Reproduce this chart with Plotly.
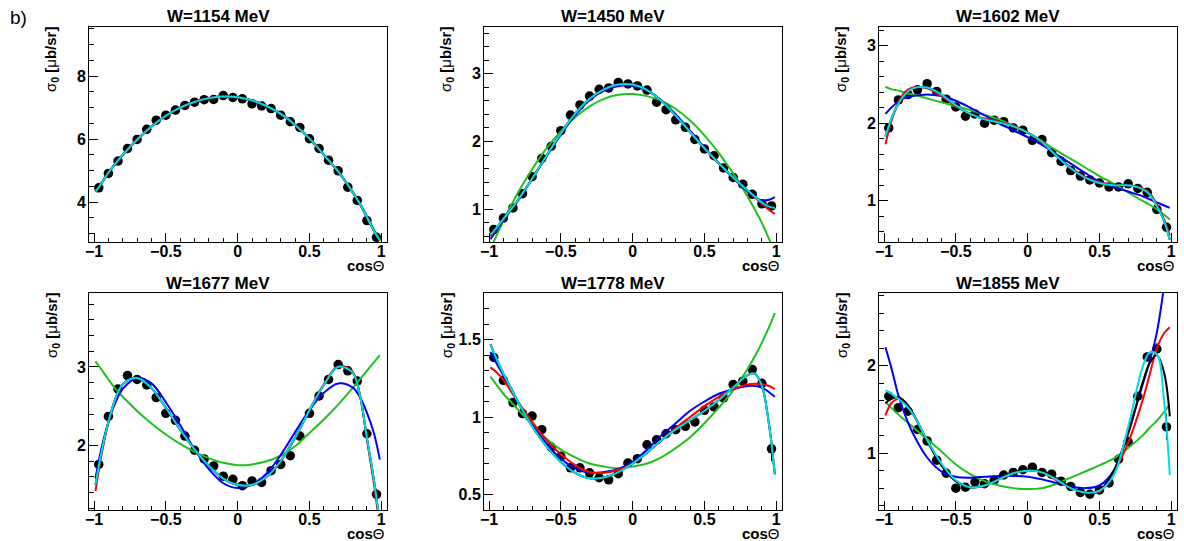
import plotly.graph_objects as go

# ---------------- data ----------------
PANEL_TITLES = ["W=1154 MeV", "W=1450 MeV", "W=1602 MeV",
                "W=1677 MeV", "W=1778 MeV", "W=1855 MeV"]

X_DATA = [-0.967, -0.9, -0.833, -0.767, -0.7, -0.633, -0.567, -0.5, -0.433, -0.367,
          -0.3, -0.233, -0.167, -0.1, -0.033, 0.033, 0.1, 0.167, 0.233, 0.3,
          0.367, 0.433, 0.5, 0.567, 0.633, 0.7, 0.767, 0.833, 0.9, 0.967]

X_FIT = [-0.99, -0.95, -0.9, -0.85, -0.8, -0.7, -0.6, -0.5, -0.4, -0.3, -0.2, -0.1,
         0.0, 0.1, 0.2, 0.3, 0.4, 0.5, 0.6, 0.7, 0.8, 0.85, 0.9, 0.95, 0.99]

# W=1154 MeV
W1154_Y = [4.45, 4.91, 5.30, 5.70, 5.99, 6.31, 6.60, 6.76, 6.92, 7.07,
           7.17, 7.25, 7.26, 7.38, 7.32, 7.28, 7.12, 7.05, 6.97, 6.76,
           6.55, 6.37, 6.01, 5.70, 5.33, 4.99, 4.47, 4.05, 3.41, 2.88]
W1154_ERR = [0.06, 0.05, 0.05, 0.05, 0.05, 0.05, 0.05, 0.05, 0.05, 0.05,
             0.05, 0.05, 0.05, 0.05, 0.05, 0.05, 0.05, 0.05, 0.05, 0.05,
             0.05, 0.05, 0.05, 0.05, 0.05, 0.05, 0.05, 0.05, 0.06, 0.08]
W1154_GREEN = [4.33, 4.58, 4.93, 5.22, 5.50, 5.98, 6.40, 6.74, 7.00, 7.18, 7.30, 7.35,
               7.33, 7.23, 7.05, 6.80, 6.45, 6.02, 5.50, 4.97, 4.33, 3.97, 3.55, 3.12, 2.80]
W1154_FIT = [4.33, 4.58, 4.93, 5.22, 5.50, 5.98, 6.40, 6.74, 7.00, 7.18, 7.30, 7.35,
             7.33, 7.23, 7.05, 6.80, 6.45, 6.02, 5.50, 4.97, 4.32, 3.95, 3.52, 3.08, 2.78]

# W=1450 MeV
W1450_Y = [0.70, 0.87, 1.02, 1.23, 1.48, 1.75, 1.93, 2.16, 2.39, 2.54,
           2.67, 2.77, 2.79, 2.87, 2.85, 2.82, 2.76, 2.58, 2.47, 2.32,
           2.21, 2.03, 1.89, 1.79, 1.61, 1.47, 1.37, 1.22, 1.08, 1.05]
W1450_ERR = [0.03, 0.02, 0.02, 0.02, 0.02, 0.02, 0.02, 0.02, 0.02, 0.02,
             0.02, 0.02, 0.02, 0.02, 0.02, 0.02, 0.02, 0.02, 0.02, 0.02,
             0.02, 0.02, 0.02, 0.02, 0.02, 0.02, 0.02, 0.02, 0.03, 0.04]
W1450_GREEN = [0.42, 0.60, 0.83, 1.04, 1.24, 1.59, 1.90, 2.15, 2.36, 2.52, 2.63, 2.69,
               2.70, 2.67, 2.60, 2.48, 2.31, 2.09, 1.83, 1.53, 1.19, 1.00, 0.80, 0.56, 0.38]
W1450_BLUE = [0.56, 0.68, 0.84, 0.98, 1.12, 1.45, 1.78, 2.10, 2.39, 2.61, 2.75, 2.82,
              2.82, 2.75, 2.61, 2.40, 2.16, 1.91, 1.68, 1.46, 1.26, 1.18, 1.13, 1.14, 1.18]
W1450_RED = [0.60, 0.71, 0.86, 0.99, 1.13, 1.45, 1.79, 2.12, 2.41, 2.63, 2.77, 2.84,
             2.84, 2.76, 2.60, 2.38, 2.14, 1.90, 1.68, 1.47, 1.28, 1.18, 1.08, 0.99, 0.93]
W1450_CYAN = [0.62, 0.72, 0.86, 0.99, 1.13, 1.45, 1.79, 2.12, 2.41, 2.63, 2.77, 2.84,
              2.84, 2.76, 2.60, 2.38, 2.14, 1.90, 1.68, 1.47, 1.28, 1.19, 1.10, 1.04, 1.02]

# W=1602 MeV
W1602_Y = [1.94, 2.30, 2.37, 2.43, 2.51, 2.41, 2.31, 2.21, 2.09, 2.12,
           2.00, 2.04, 2.02, 1.94, 1.91, 1.78, 1.79, 1.62, 1.51, 1.39,
           1.32, 1.27, 1.23, 1.18, 1.18, 1.22, 1.16, 1.11, 0.89, 0.66]
W1602_ERR = [0.04, 0.03, 0.03, 0.03, 0.03, 0.03, 0.03, 0.03, 0.03, 0.03,
             0.03, 0.03, 0.03, 0.03, 0.03, 0.03, 0.03, 0.03, 0.03, 0.03,
             0.03, 0.03, 0.03, 0.03, 0.03, 0.03, 0.03, 0.03, 0.04, 0.05]
W1602_GREEN = [2.47, 2.44, 2.42, 2.39, 2.37, 2.32, 2.27, 2.22, 2.17, 2.11, 2.05, 1.97,
               1.88, 1.77, 1.65, 1.54, 1.43, 1.32, 1.22, 1.11, 1.00, 0.95, 0.89, 0.82, 0.76]
W1602_BLUE = [2.12, 2.20, 2.28, 2.33, 2.35, 2.37, 2.35, 2.29, 2.20, 2.10, 2.00, 1.91,
              1.82, 1.72, 1.60, 1.48, 1.36, 1.25, 1.18, 1.12, 1.06, 1.02, 0.98, 0.94, 0.91]
W1602_RED = [1.73, 2.02, 2.27, 2.41, 2.46, 2.45, 2.35, 2.22, 2.12, 2.06, 2.02, 1.97,
             1.88, 1.75, 1.58, 1.43, 1.31, 1.24, 1.21, 1.20, 1.16, 1.10, 0.95, 0.76, 0.55]
W1602_CYAN = [1.83, 2.05, 2.25, 2.38, 2.45, 2.46, 2.37, 2.23, 2.12, 2.05, 2.01, 1.96,
              1.88, 1.76, 1.58, 1.42, 1.30, 1.23, 1.20, 1.20, 1.15, 1.08, 0.93, 0.74, 0.50]

# W=1677 MeV
W1677_Y = [1.76, 2.37, 2.72, 2.89, 2.84, 2.77, 2.61, 2.41, 2.32, 2.12,
           1.94, 1.83, 1.74, 1.61, 1.57, 1.49, 1.55, 1.53, 1.68, 1.76,
           1.87, 2.12, 2.41, 2.63, 2.84, 3.03, 2.95, 2.82, 2.15, 1.38]
W1677_ERR = [0.05, 0.04, 0.04, 0.04, 0.04, 0.04, 0.04, 0.04, 0.04, 0.04,
             0.04, 0.04, 0.04, 0.04, 0.04, 0.04, 0.04, 0.04, 0.04, 0.04,
             0.04, 0.04, 0.04, 0.04, 0.04, 0.04, 0.04, 0.04, 0.05, 0.07]
W1677_GREEN = [3.07, 2.97, 2.84, 2.72, 2.62, 2.44, 2.28, 2.14, 2.02, 1.92, 1.84, 1.78,
               1.75, 1.76, 1.80, 1.87, 1.99, 2.16, 2.33, 2.52, 2.73, 2.84, 2.95, 3.06, 3.15]
W1677_BLUE = [1.58, 1.95, 2.30, 2.55, 2.72, 2.86, 2.79, 2.55, 2.26, 1.95, 1.70, 1.52,
              1.46, 1.50, 1.64, 1.88, 2.17, 2.45, 2.67, 2.79, 2.74, 2.62, 2.42, 2.15, 1.82]
W1677_RED = [1.42, 1.86, 2.29, 2.60, 2.78, 2.86, 2.73, 2.48, 2.20, 1.95, 1.74, 1.58,
             1.50, 1.50, 1.60, 1.80, 2.10, 2.45, 2.78, 3.01, 2.94, 2.66, 2.08, 1.50, 0.95]
W1677_CYAN = [1.50, 1.90, 2.30, 2.60, 2.78, 2.86, 2.73, 2.48, 2.20, 1.95, 1.74, 1.58,
              1.50, 1.50, 1.60, 1.80, 2.10, 2.45, 2.77, 3.00, 2.93, 2.65, 2.10, 1.55, 1.00]

# W=1778 MeV
W1778_Y = [1.384, 1.237, 1.093, 1.022, 1.006, 0.918, 0.806, 0.746, 0.672, 0.672,
           0.640, 0.608, 0.595, 0.634, 0.703, 0.731, 0.821, 0.853, 0.892, 0.918,
           0.940, 0.968, 1.043, 1.065, 1.123, 1.209, 1.231, 1.306, 1.216, 0.795]
W1778_ERR = [0.025, 0.02, 0.02, 0.02, 0.02, 0.02, 0.02, 0.02, 0.02, 0.02,
             0.02, 0.02, 0.02, 0.02, 0.02, 0.02, 0.02, 0.02, 0.02, 0.02,
             0.02, 0.02, 0.02, 0.02, 0.02, 0.02, 0.02, 0.025, 0.035, 0.08]
W1778_GREEN = [1.26, 1.21, 1.15, 1.10, 1.05, 0.95, 0.86, 0.79, 0.74, 0.70, 0.68, 0.67,
               0.68, 0.70, 0.74, 0.80, 0.87, 0.96, 1.06, 1.17, 1.31, 1.39, 1.48, 1.58, 1.67]
W1778_BLUE = [1.42, 1.35, 1.27, 1.19, 1.10, 0.95, 0.83, 0.73, 0.67, 0.64, 0.645, 0.665,
              0.71, 0.79, 0.88, 0.96, 1.04, 1.10, 1.15, 1.18, 1.20, 1.20, 1.19, 1.16, 1.13]
W1778_RED = [1.32, 1.29, 1.24, 1.17, 1.10, 0.97, 0.85, 0.76, 0.69, 0.645, 0.64, 0.66,
             0.70, 0.77, 0.85, 0.93, 1.00, 1.07, 1.13, 1.18, 1.21, 1.215, 1.21, 1.20, 1.18]
W1778_CYAN = [1.47, 1.38, 1.28, 1.19, 1.10, 0.94, 0.81, 0.71, 0.64, 0.605, 0.61, 0.645,
              0.70, 0.77, 0.85, 0.92, 0.98, 1.04, 1.11, 1.19, 1.27, 1.28, 1.20, 0.95, 0.63]

# W=1855 MeV
W1855_Y = [1.65, 1.52, 1.48, 1.27, 1.14, 0.92, 0.77, 0.60, 0.61, 0.67,
           0.65, 0.69, 0.75, 0.78, 0.81, 0.84, 0.78, 0.76, 0.68, 0.62,
           0.55, 0.53, 0.58, 0.66, 0.93, 1.13, 1.65, 2.10, 2.19, 1.30]
W1855_ERR = [0.05, 0.03, 0.03, 0.03, 0.03, 0.03, 0.03, 0.03, 0.03, 0.03,
             0.03, 0.03, 0.03, 0.03, 0.03, 0.03, 0.03, 0.03, 0.03, 0.03,
             0.03, 0.03, 0.03, 0.03, 0.03, 0.04, 0.04, 0.05, 0.07, 0.15]
W1855_GREEN = [1.58, 1.52, 1.44, 1.37, 1.30, 1.16, 1.02, 0.87, 0.76, 0.68, 0.63, 0.60,
               0.59, 0.60, 0.65, 0.72, 0.79, 0.86, 0.94, 1.06, 1.20, 1.29, 1.37, 1.47, 1.56]
W1855_BLUE = [2.21, 1.98, 1.66, 1.42, 1.23, 0.95, 0.79, 0.73, 0.72, 0.73, 0.74, 0.74,
              0.73, 0.70, 0.66, 0.62, 0.60, 0.63, 0.80, 1.25, 1.78, 2.05, 2.38, 2.90, 3.30]
W1855_RED = [1.43, 1.57, 1.62, 1.57, 1.45, 1.15, 0.86, 0.68, 0.61, 0.63, 0.70, 0.77,
             0.80, 0.78, 0.69, 0.60, 0.55, 0.56, 0.78, 1.12, 1.60, 1.90, 2.20, 2.37, 2.44]
W1855_BLACK = [1.57, 1.62, 1.64, 1.58, 1.46, 1.14, 0.86, 0.68, 0.61, 0.63, 0.71, 0.78,
               0.81, 0.79, 0.71, 0.61, 0.55, 0.57, 0.80, 1.22, 1.80, 2.03, 2.12, 1.92, 1.42]
W1855_CYAN = [1.72, 1.68, 1.62, 1.55, 1.45, 1.15, 0.88, 0.69, 0.61, 0.63, 0.70, 0.77,
              0.80, 0.78, 0.70, 0.60, 0.55, 0.57, 0.75, 1.30, 1.98, 2.15, 2.13, 1.60, 0.75]

# axis ranges / tick steps per panel
Y_RANGES = [[2.73, 9.56], [0.517, 3.69], [0.47, 3.24],
            [1.18, 3.94], [0.40, 1.80], [0.35, 2.83]]
Y_DTICK = [2, 1, 1, 1, 0.5, 1]
Y_MINOR = [0.5, 0.2, 0.2, 0.2, 0.1, 0.2]
X_RANGE = [-1.035, 1.04]

# ---------------- styling ----------------
GREEN = "#1fc01f"
BLUE = "#0000ff"
RED = "#ff0000"
BLACK = "#000000"
CYAN = "#00dce6"
FONT = "Liberation Sans, Arial, Helvetica, sans-serif"

W, H = 1184, 541
COL_LEFT = [89, 484, 879]
FRAME_W = 298
ROW_TOP = [27, 293]
ROW_BOTTOM = [242, 510]

panels = [
    (W1154_Y, W1154_ERR, [(GREEN, W1154_GREEN), (BLUE, W1154_FIT), (RED, W1154_FIT),
                          (BLACK, W1154_FIT), (CYAN, W1154_FIT)]),
    (W1450_Y, W1450_ERR, [(GREEN, W1450_GREEN), (BLUE, W1450_BLUE), (RED, W1450_RED),
                          (BLACK, W1450_CYAN), (CYAN, W1450_CYAN)]),
    (W1602_Y, W1602_ERR, [(GREEN, W1602_GREEN), (BLUE, W1602_BLUE), (RED, W1602_RED),
                          (BLACK, W1602_CYAN), (CYAN, W1602_CYAN)]),
    (W1677_Y, W1677_ERR, [(GREEN, W1677_GREEN), (BLUE, W1677_BLUE), (RED, W1677_RED),
                          (BLACK, W1677_CYAN), (CYAN, W1677_CYAN)]),
    (W1778_Y, W1778_ERR, [(GREEN, W1778_GREEN), (BLUE, W1778_BLUE), (RED, W1778_RED),
                          (BLACK, W1778_CYAN), (CYAN, W1778_CYAN)]),
    (W1855_Y, W1855_ERR, [(GREEN, W1855_GREEN), (BLUE, W1855_BLUE), (RED, W1855_RED),
                          (BLACK, W1855_BLACK), (CYAN, W1855_CYAN)]),
]

fig = go.Figure()
annotations = []
layout = {}

for i, (ydata, yerr, fits) in enumerate(panels):
    row, col = divmod(i, 3)
    n = i + 1
    xa = "x" if n == 1 else f"x{n}"
    ya = "y" if n == 1 else f"y{n}"
    left = COL_LEFT[col]
    right = left + FRAME_W
    top = ROW_TOP[row]
    bottom = ROW_BOTTOM[row]

    fig.add_trace(go.Scatter(
        x=X_DATA, y=ydata, mode="markers", xaxis=xa, yaxis=ya,
        marker=dict(size=9.5, color="black"),
        error_y=dict(type="data", array=yerr, color="black", thickness=1, width=0),
        hoverinfo="skip", showlegend=False))
    for color, vals in fits:
        fig.add_trace(go.Scatter(
            x=X_FIT, y=vals, mode="lines", xaxis=xa, yaxis=ya,
            line=dict(color=color, width=2, shape="spline", smoothing=1.0),
            hoverinfo="skip", showlegend=False))

    axis_common = dict(
        showline=True, linecolor="black", linewidth=1, mirror=True,
        ticks="inside", tickcolor="black", tickwidth=1,
        showgrid=False, zeroline=False, automargin=False,
        tickfont=dict(family=FONT, size=16, color="black", weight="bold"),
    )
    layout["xaxis" if n == 1 else f"xaxis{n}"] = dict(
        axis_common, domain=[left / W, right / W], range=X_RANGE,
        anchor=ya, tick0=0, dtick=0.5, ticklen=9, ticklabelstandoff=-5,
        minor=dict(dtick=0.1, tick0=0, ticklen=4, ticks="inside",
                   tickcolor="black", tickwidth=1, showgrid=False))
    layout["yaxis" if n == 1 else f"yaxis{n}"] = dict(
        axis_common, domain=[1 - bottom / H, 1 - top / H], range=Y_RANGES[i],
        anchor=xa, tick0=0, dtick=Y_DTICK[i], ticklen=9, ticklabelstandoff=-1,
        minor=dict(dtick=Y_MINOR[i], tick0=0, ticklen=4.5, ticks="inside",
                   tickcolor="black", tickwidth=1, showgrid=False))

    # panel title
    title_y = 17 if row == 0 else 283
    annotations.append(dict(
        text="<b>" + PANEL_TITLES[i] + "</b>", xref="paper", yref="paper",
        x=(218 + 395 * col) / W, y=1 - title_y / H, xanchor="center", yanchor="middle",
        showarrow=False, font=dict(family=FONT, size=17, color="black")))
    # y title
    annotations.append(dict(
        text="σ<sub><b>0</b></sub><b> [</b>μ<b>b/sr]</b>", xref="paper", yref="paper",
        x=(52 + 395 * col) / W, y=1 - (top + 33) / H, xanchor="center", yanchor="middle",
        textangle=-90, showarrow=False, font=dict(family=FONT, size=15, color="black")))
    # x title
    annotations.append(dict(
        text="<b>cos</b>Θ", xref="paper", yref="paper",
        x=right / W, y=1 - (bottom + 23) / H, xanchor="right", yanchor="middle",
        showarrow=False, font=dict(family=FONT, size=15, color="black")))

annotations.append(dict(
    text="b)", xref="paper", yref="paper", x=18 / W, y=1 - 18 / H,
    xanchor="center", yanchor="middle", showarrow=False,
    font=dict(family=FONT, size=19, color="black")))

fig.update_layout(
    width=W, height=H, margin=dict(l=0, r=0, t=0, b=0, pad=0),
    paper_bgcolor="white", plot_bgcolor="white",
    showlegend=False, annotations=annotations, **layout)

fig.write_html(
    "out.html",
    config={"displayModeBar": False, "staticPlot": True},
    post_script="document.body.style.margin='0px';document.body.style.padding='0px';"
                "document.documentElement.style.overflow='hidden';")
